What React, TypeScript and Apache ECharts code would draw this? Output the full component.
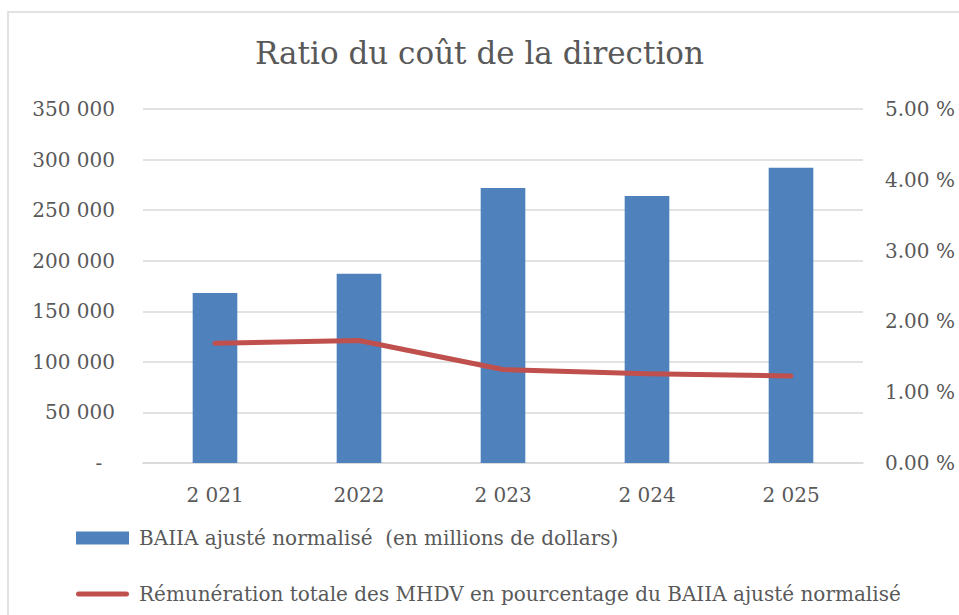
import React, { useEffect, useRef } from "react";
import * as echarts from "echarts";

const categories = ["2 021", "2022", "2 023", "2 024", "2 025"];
const baiiaValues = [168000, 187000, 272000, 264000, 292000];
const ratioValues = [1.69, 1.73, 1.32, 1.26, 1.23];
const barName = "BAIIA ajusté normalisé  (en millions de dollars)";
const lineName = "Rémunération totale des MHDV en pourcentage du BAIIA ajusté normalisé";
const titleText = "Ratio du coût de la direction";

const FONT = "'DejaVu Serif', serif";
const TEXT = "#595959";

function fmtThousands(v: number): string {
  if (v === 0) return "-  ";
  return String(v).replace(/\B(?=(\d{3})+(?!\d))/g, " ");
}

export default function App() {
  const ref = useRef<HTMLDivElement>(null);
  useEffect(() => {
    if (!ref.current) return;
    const chart = echarts.init(ref.current, undefined, { renderer: "svg" });
    chart.setOption({
      animation: false,
      backgroundColor: "#ffffff",
      textStyle: { fontFamily: FONT },
      title: {
        text: titleText,
        left: "center",
        top: 32,
        textStyle: { fontFamily: FONT, fontSize: 31, fontWeight: "normal", color: TEXT },
      },
      graphic: [
        {
          type: "rect",
          shape: { x: 8, y: 12, width: 1000, height: 700 },
          style: { fill: "none", stroke: "#d9d9d9", lineWidth: 1.5 },
          silent: true,
        },
      ],
      legend: {
        orient: "vertical",
        left: 76,
        top: 528,
        padding: 0,
        itemWidth: 53,
        itemHeight: 13,
        itemGap: 36,
        textStyle: { fontFamily: FONT, fontSize: 20, color: TEXT, padding: [0, 0, 0, 5] },
        data: [
          { name: barName, icon: "rect" },
          { name: lineName, icon: "path://M2.5,0 L50.5,0 A2.5,2.5 0 0 1 50.5,5 L2.5,5 A2.5,2.5 0 0 1 2.5,0 Z" },
        ],
      },
      grid: { left: 143, right: 96, top: 109, bottom: 152 },
      xAxis: {
        type: "category",
        data: categories,
        axisTick: { show: false },
        axisLine: { lineStyle: { color: "#d9d9d9", width: 1.5 } },
        axisLabel: { fontFamily: FONT, fontSize: 20, color: TEXT, margin: 22 },
      },
      yAxis: [
        {
          type: "value",
          min: 0,
          max: 350000,
          interval: 50000,
          axisLine: { show: false },
          axisTick: { show: false },
          splitLine: { lineStyle: { color: "#d9d9d9", width: 1.5 } },
          axisLabel: { fontFamily: FONT, fontSize: 20, color: TEXT, margin: 28, formatter: fmtThousands },
        },
        {
          type: "value",
          min: 0,
          max: 5,
          interval: 1,
          axisLine: { show: false },
          axisTick: { show: false },
          splitLine: { show: false },
          axisLabel: {
            fontFamily: FONT,
            fontSize: 20,
            color: TEXT,
            margin: 22,
            formatter: (v: number) => v.toFixed(2) + " %",
          },
        },
      ],
      series: [
        {
          name: barName,
          type: "bar",
          data: baiiaValues,
          barWidth: "31%",
          itemStyle: { color: "#4F81BD" },
          yAxisIndex: 0,
        },
        {
          name: lineName,
          type: "line",
          data: ratioValues,
          yAxisIndex: 1,
          symbol: "none",
          lineStyle: { color: "#C0504D", width: 5, cap: "round", join: "round" },
          itemStyle: { color: "#C0504D" },
        },
      ],
    });
    return () => chart.dispose();
  }, []);
  return (
    <div
      ref={ref}
      style={{ position: "fixed", left: 0, top: 0, width: 959, height: 615 }}
    />
  );
}
